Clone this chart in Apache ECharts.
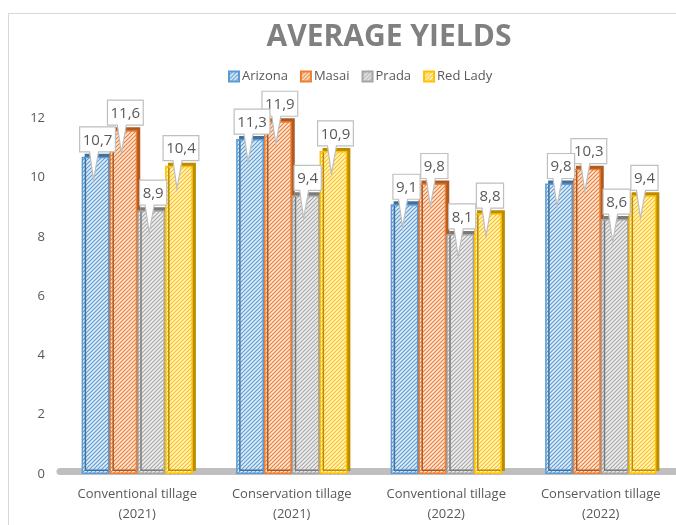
<!DOCTYPE html>
<html>
<head>
<meta charset="utf-8">
<title>Average yields</title>
<script src="https://cdn.jsdelivr.net/npm/echarts@6/dist/echarts.min.js"></script>
<style>
html,body{margin:0;padding:0;background:#fff;overflow:hidden;}
#main{position:absolute;left:8px;top:13px;width:680px;height:520px;border:1px solid #d9d9d9;}
</style>
</head>
<body>
<div id="main"></div>
<script>
var categories = ['Conventional tillage\n(2021)', 'Conservation tillage\n(2021)', 'Conventional tillage\n(2022)', 'Conservation tillage\n(2022)'];
var varieties = ['Arizona', 'Masai', 'Prada', 'Red Lady'];
var arizona = [10.7, 11.3, 9.1, 9.8];
var masai = [11.6, 11.9, 9.8, 10.3];
var prada = [8.9, 9.4, 8.1, 8.6];
var redLady = [10.4, 10.9, 8.8, 9.4];
var yTicks = [0, 2, 4, 6, 8, 10, 12];

var colors = ['#5B9BD5', '#ED7D31', '#A5A5A5', '#FFC000'];
var tints = ['rgba(91,155,213,0.18)', 'rgba(237,125,49,0.18)', 'rgba(165,165,165,0.18)', 'rgba(255,192,0,0.18)'];
var sideColors = ['#41719C', '#AE5A21', '#7B7B7B', '#BC8C00'];
var barCatGap = 0.28;

// diagonal hatch fill like the excel pattern
function makeHatch(color, tint){
	var c = document.createElement('canvas');
	c.width = 4; c.height = 4;
	var ctx = c.getContext('2d');
	ctx.fillStyle = '#fff';
	ctx.fillRect(0, 0, 4, 4);
	ctx.fillStyle = tint;
	ctx.fillRect(0, 0, 4, 4);
	ctx.strokeStyle = color;
	ctx.lineWidth = 1.1;
	ctx.beginPath();
	ctx.moveTo(0, 4); ctx.lineTo(4, 0);
	ctx.moveTo(-2, 2); ctx.lineTo(2, -2);
	ctx.moveTo(2, 6); ctx.lineTo(6, 2);
	ctx.stroke();
	return c;
}

// callout box with a tail pointing into the bar
function makeCallout(idx){
	return function(params, api){
		var val = api.value(1);
		var pt = api.coord([api.value(0), val]);
		var band = api.size([1, 0])[0];
		var bw = band * (1 - barCatGap) / 4;
		var cx = pt[0] + (idx - 1.5) * bw;
		var top = pt[1];
		var txt = val.toFixed(1).replace('.', ',');
		var w = (txt.length - 1) * 8.6 + 10;
		var h = 25;
		var bx = cx + 2 - w / 2;
		var by = top - h - 5;
		var bb = by + h;
		return {
			type: 'group',
			children: [
				{
					type: 'polygon',
					shape: {points: [[bx, by], [bx + w, by], [bx + w, bb], [cx + 3, bb], [cx - 2, top + 23], [cx - 6, bb], [bx, bb]]},
					style: {fill: '#fff', stroke: '#BFBFBF', lineWidth: 1.2}
				},
				{
					type: 'text',
					style: {text: txt, x: bx + w / 2, y: by + h / 2 + 1, align: 'center', verticalAlign: 'middle',
						fill: '#595959', font: '15px "Open Sans"'}
				}
			]
		};
	};
}

var myChart = echarts.init(document.getElementById('main'));

var seriesData = [arizona, masai, prada, redLady];
var series = [];
for(var i=0;i<varieties.length;i++){
	series.push({
		name: varieties[i],
		type: 'bar',
		data: seriesData[i],
		barGap: '0%',
		barCategoryGap: (barCatGap * 100) + '%',
		itemStyle: {
			color: {image: makeHatch(colors[i], tints[i]), repeat: 'repeat'},
			borderColor: colors[i],
			borderWidth: 1.5,
			shadowColor: sideColors[i],
			shadowBlur: 0,
			shadowOffsetX: 3,
			shadowOffsetY: -3
		}
	});
}
for(var i=0;i<varieties.length;i++){
	var pts = [];
	for(var j=0;j<seriesData[i].length;j++){
		pts.push([j, seriesData[i][j]]);
	}
	series.push({
		name: 'label' + i,
		type: 'custom',
		z: 8 - i,
		renderItem: makeCallout(i),
		encode: {x: 0, y: 1},
		data: pts
	});
}

var option = {
	animation: false,
	title: {
		text: 'AVERAGE YIELDS',
		left: 375,
		textAlign: 'center',
		top: 3,
		textStyle: {color: '#808080', fontSize: 30, fontWeight: 'bold', fontFamily: 'Open Sans'}
	},
	legend: {
		data: varieties,
		left: 214,
		top: 51,
		itemWidth: 10,
		itemHeight: 10,
		itemGap: 12,
		icon: 'rect',
		itemStyle: {shadowBlur: 0, shadowOffsetX: 0, shadowOffsetY: 0, shadowColor: 'transparent'},
		textStyle: {color: '#595959', fontSize: 13, fontFamily: 'Open Sans', padding: [0, 0, 0, -2]}
	},
	grid: {
		left: 51,
		right: 11,
		top: 45,
		bottom: 60,
		containLabel: false
	},
	xAxis: [{
		type: 'category',
		data: categories,
		axisLine: {show: false},
		axisTick: {show: false},
		axisLabel: {interval: 0, color: '#595959', fontSize: 13, fontFamily: 'Open Sans', lineHeight: 20, margin: 10}
	}, {
		// grey floor under the bars
		type: 'category',
		position: 'bottom',
		data: categories,
		offset: -3,
		axisLine: {lineStyle: {color: '#BFBFBF', width: 7}},
		axisTick: {show: false},
		axisLabel: {show: false}
	}],
	yAxis: {
		type: 'value',
		min: 0,
		max: 14,
		interval: 2,
		axisLine: {show: false},
		axisTick: {show: false},
		splitLine: {show: false},
		axisLabel: {
			color: '#595959', fontSize: 13, fontFamily: 'Open Sans', margin: 15,
			formatter: function(v){ return yTicks.indexOf(v) >= 0 ? String(v) : ''; }
		}
	},
	series: series
};

myChart.setOption(option);
</script>
</body>
</html>
